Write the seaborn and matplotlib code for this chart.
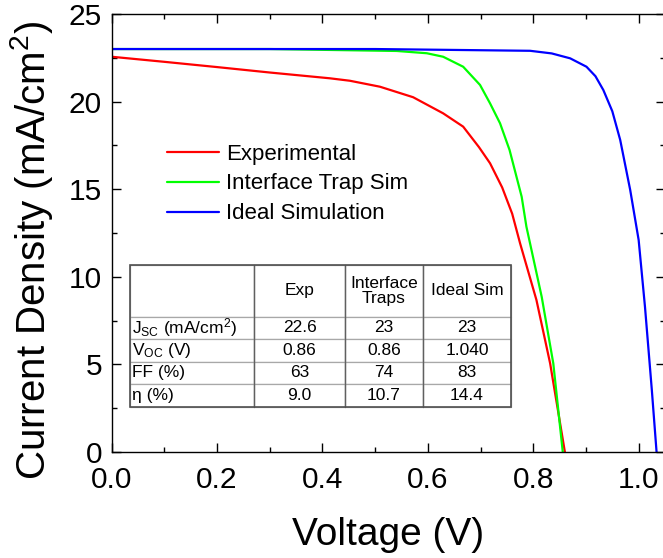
import matplotlib
matplotlib.use("Agg")
import matplotlib.pyplot as plt
import seaborn as sns
import pandas as pd
from matplotlib.ticker import MultipleLocator
from matplotlib.patches import Rectangle

# ---- data ----
exp_v = [0.0, 0.1, 0.2, 0.3, 0.414, 0.452, 0.509, 0.572, 0.629, 0.667, 0.697, 0.718, 0.741, 0.760, 0.775, 0.806, 0.832, 0.860]
exp_j = [22.56, 22.27, 21.97, 21.66, 21.33, 21.19, 20.85, 20.25, 19.33, 18.57, 17.40, 16.48, 15.10, 13.60, 11.91, 8.68, 5.06, 0.0]

trap_v = [0.0, 0.3, 0.541, 0.598, 0.629, 0.667, 0.699, 0.718, 0.737, 0.755, 0.778, 0.787, 0.816, 0.838, 0.856]
trap_j = [23.0, 23.0, 22.89, 22.76, 22.56, 21.99, 20.95, 19.90, 18.76, 17.24, 14.57, 12.86, 8.86, 5.06, 0.0]

ideal_v = [0.0, 0.5, 0.794, 0.835, 0.870, 0.901, 0.918, 0.933, 0.950, 0.965, 0.984, 1.000, 1.012, 1.025, 1.034]
ideal_j = [23.0, 23.0, 22.90, 22.75, 22.47, 21.99, 21.45, 20.66, 19.45, 17.81, 14.95, 12.10, 8.29, 3.54, 0.0]

series_names = ["Experimental", "Interface Trap Sim", "Ideal Simulation"]
series_colors = ["#ff0000", "#00ff00", "#0000ff"]

table_cols = ["", "Exp", "Interface\nTraps", "Ideal Sim"]
table_rows = [r"J$_{\mathregular{SC}}$ (mA/cm$^{\mathregular{2}}$)", r"V$_{\mathregular{OC}}$ (V)", "FF (%)", "η (%)"]
table_exp = ["22.6", "0.86", "63", "9.0"]
table_trap = ["23", "0.86", "74", "10.7"]
table_ideal = ["23", "1.040", "83", "14.4"]

x_ticks = [0.0, 0.2, 0.4, 0.6, 0.8, 1.0]
y_ticks = [0, 5, 10, 15, 20, 25]

# ---- style ----
sns.set_style("ticks")
plt.rcParams['font.family'] = ['Liberation Sans', 'DejaVu Sans']
plt.rcParams['mathtext.fontset'] = 'custom'
plt.rcParams['mathtext.rm'] = 'Liberation Sans'
plt.rcParams['mathtext.default'] = 'regular'
for k in ['text.color', 'axes.labelcolor', 'xtick.color', 'ytick.color', 'axes.edgecolor']:
    plt.rcParams[k] = 'black'

fig = plt.figure(figsize=(6.63, 5.58), dpi=100)
W, H = 663, 558
x0, x1, ytop, ybot = 111.7, 665.0, 14.0, 452.0
ax = fig.add_axes([x0 / W, (H - ybot) / H, (x1 - x0) / W, (ybot - ytop) / H])

frames = []
for name, v, j in zip(series_names, [exp_v, trap_v, ideal_v], [exp_j, trap_j, ideal_j]):
    frames.append(pd.DataFrame({"V": v, "J": j, "series": name}))
df = pd.concat(frames, ignore_index=True)

sns.lineplot(data=df, x="V", y="J", hue="series", palette=series_colors,
             hue_order=series_names, sort=False, estimator=None, lw=1.6, ax=ax)

ax.set_xlim(0, 1.05)
ax.set_ylim(0, 25)
ax.set_xticks(x_ticks)
ax.set_yticks(y_ticks)
ax.set_xticklabels([f"{t:.1f}" for t in x_ticks])
ax.set_yticklabels([str(t) for t in y_ticks])
ax.xaxis.set_minor_locator(MultipleLocator(0.1))
ax.yaxis.set_minor_locator(MultipleLocator(2.5))
ax.tick_params(which="both", direction="in", top=True, right=True, width=1.0, color="black")
ax.tick_params(which="major", length=6.5)
ax.tick_params(which="minor", length=3.6)
ax.tick_params(axis="x", which="major", labelsize=21.5, pad=10)
ax.tick_params(axis="y", which="major", labelsize=21.5, pad=7)
for s in ax.spines.values():
    s.set_linewidth(1.0)
    s.set_color("black")

ax.set_xlabel("Voltage (V)", fontsize=28)
ax.set_ylabel(r"Current Density (mA/cm$^{\mathregular{2}}$)", fontsize=29)
ax.xaxis.set_label_coords(0.5, (452 - 545) / 438, transform=ax.transAxes)
ax.xaxis.label.set_va("baseline")
ax.yaxis.set_label_coords((55 - x0) / (x1 - x0), (452 - 250) / 438)

leg = ax.legend(loc="center left", bbox_to_anchor=((167 - x0) / (x1 - x0), (452 - 184) / 438),
                frameon=False, fontsize=16, handlelength=2.35, handletextpad=0.3,
                labelspacing=0.4, borderpad=0, borderaxespad=0)
for line in leg.get_lines():
    line.set_linewidth(1.6)

# ---- table ----
cell_text = [[r, a, b, c] for r, a, b, c in zip(table_rows, table_exp, table_trap, table_ideal)]
tb_left = (130 - x0) / (x1 - x0)
tb_right = (511 - x0) / (x1 - x0)
tb_top = (452 - 265) / 438
tb_bot = (452 - 406.7) / 438
tbl = ax.table(cellText=cell_text, colLabels=table_cols, cellLoc="center",
               colWidths=[124, 91, 78, 88],
               bbox=[tb_left, tb_bot, tb_right - tb_left, tb_top - tb_bot])
tbl.auto_set_font_size(False)
tbl.set_fontsize(12.5)
for (r, c), cell in tbl.get_celld().items():
    cell.set_edgecolor("#a8a8a8")
    cell.set_linewidth(0.9)
    cell.set_facecolor("white")
    cell.get_text().set_color("black")
    if r == 0:
        cell.set_height(51.7)
        cell.get_text().set_linespacing(1.05)
    else:
        cell.set_height(22.5)
    if c == 0:
        cell.PAD = 0.015
        cell.get_text().set_ha("left")
        cell._loc = "left"
# darker vertical dividers and border
for xpx in [254, 345, 423]:
    xa = (xpx - x0) / (x1 - x0)
    ax.plot([xa, xa], [tb_bot, tb_top], transform=ax.transAxes, color="#606060", lw=1.0, zorder=10)
ax.add_patch(Rectangle((tb_left, tb_bot), tb_right - tb_left, tb_top - tb_bot,
                       transform=ax.transAxes, fill=False, edgecolor="#505050",
                       lw=1.2, zorder=10))

fig.savefig("out.png", dpi=100)
